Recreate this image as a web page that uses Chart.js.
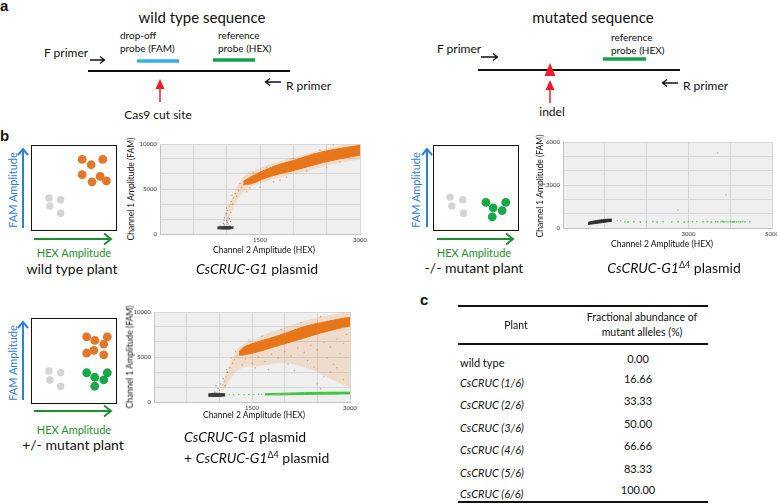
<!DOCTYPE html>
<html>
<head>
<meta charset="utf-8">
<script src="https://cdn.jsdelivr.net/npm/chart.js@4.4.1/dist/chart.umd.min.js"></script>
<style>
  body { margin: 0; background: #fff; }
  #fig { position: relative; width: 777px; height: 504px; overflow: hidden;
         font-family: Lato, 'Open Sans', sans-serif; color: #111; }
  .t { position: absolute; white-space: nowrap; line-height: 1; }
  .c { transform: translate(-50%, -50%); }
  .l { transform: translate(0, -50%); }
  .rot { transform: translate(-50%, -50%) rotate(-90deg); }
  .lbl { font-family: Arial, 'Liberation Sans', sans-serif; font-weight: bold; font-size: 15px; }
  canvas { position: absolute; }
  .box { position: absolute; width: 86px; height: 86px; border: 1.5px solid #111; box-sizing: border-box; }
  .box canvas { left: 0; top: 0; }
  i { font-style: italic; }
  sup { font-size: 9px; vertical-align: 5px; line-height: 0; }
  .rule { position: absolute; left: 458px; width: 250px; background: #111; }
</style>
</head>
<body>
<div id="fig">
  <!-- panel a -->
  <div class="t lbl" style="left:0;top:-2px">a</div>
  <div class="t c" style="left:202px;top:17px;font-size:15px">wild type sequence</div>
  <div class="t c" style="left:593px;top:17px;font-size:15px">mutated sequence</div>
  <div class="t" style="left:120px;top:29px;font-size:10px;line-height:13px">drop-off<br>probe (FAM)</div>
  <div class="t" style="left:218px;top:29px;font-size:10px;line-height:13px">reference<br>probe (HEX)</div>
  <div class="t" style="left:611px;top:31px;font-size:10px;line-height:13px">reference<br>probe (HEX)</div>
  <div class="t l" style="left:44px;top:53px;font-size:12px">F primer</div>
  <div class="t l" style="left:437px;top:49px;font-size:12px">F primer</div>
  <div class="t l" style="left:286px;top:86px;font-size:12px">R primer</div>
  <div class="t l" style="left:683px;top:86px;font-size:12px">R primer</div>
  <div class="t c" style="left:158px;top:115px;font-size:12px">Cas9 cut site</div>
  <div class="t c" style="left:552px;top:112px;font-size:12px">indel</div>

  <svg width="777" height="504" style="position:absolute;left:0;top:0" fill="none">
    <g stroke="#111">
      <line x1="88" y1="71" x2="290" y2="71" stroke-width="2"/>
      <line x1="478" y1="70" x2="680" y2="70" stroke-width="2"/>
      <path d="M90 60H104M100 56.5L104.5 60L100 63.5" stroke-width="1.3"/>
      <path d="M481 57H497M493 53.5L497.5 57L493 60.5" stroke-width="1.3"/>
      <path d="M281 82H266M270 78.5L265.5 82L270 85.5" stroke-width="1.3"/>
      <path d="M678 83H663M667 79.5L662.5 83L667 86.5" stroke-width="1.3"/>
    </g>
    <line x1="137" y1="61" x2="179" y2="61" stroke="#35aee6" stroke-width="3.5"/>
    <line x1="213" y1="60" x2="255" y2="60" stroke="#14a04b" stroke-width="3.5"/>
    <line x1="603" y1="59" x2="646" y2="59" stroke="#14a04b" stroke-width="3.5"/>
    <g stroke="#ee1c24" stroke-width="1.5">
      <line x1="160" y1="102" x2="160" y2="87"/>
      <line x1="550" y1="103" x2="550" y2="88"/>
    </g>
    <g fill="#ee1c24">
      <polygon points="155.5,89 160,79 164.5,89"/>
      <polygon points="545.5,90 550,80 554.5,90"/>
      <polygon points="544.5,76 550,63 555.5,76"/>
    </g>
    <!-- amplitude arrows -->
    <g stroke="#2f7fd8" stroke-width="2">
      <path d="M23 228V149M18 155L23 149L28 155"/>
      <path d="M427 227V149M422 155L427 149L432 155"/>
      <path d="M23 400V322M18 328L23 322L28 328"/>
    </g>
    <g stroke="#1e8f2e" stroke-width="2">
      <path d="M34 239H111M104 233.5L111 239L104 244.5"/>
      <path d="M437 239H513M506 233.5L513 239L506 244.5"/>
      <path d="M34 411H111M104 405.5L111 411L104 416.5"/>
    </g>
  </svg>

  <!-- panel b -->
  <div class="t lbl" style="left:0;top:128px">b</div>
  <div class="box" style="left:31px;top:145px"><canvas id="mini1" width="86" height="86"></canvas></div>
  <div class="box" style="left:433px;top:145px"><canvas id="mini2" width="86" height="86"></canvas></div>
  <div class="box" style="left:31px;top:318px"><canvas id="mini3" width="86" height="86"></canvas></div>

  <div class="t rot" style="left:12px;top:190px;font-size:11px;color:#2f7fd8">FAM Amplitude</div>
  <div class="t rot" style="left:415px;top:190px;font-size:11px;color:#2f7fd8">FAM Amplitude</div>
  <div class="t rot" style="left:12px;top:363px;font-size:11px;color:#2f7fd8">FAM Amplitude</div>
  <div class="t c" style="left:74px;top:252px;font-size:11px;color:#1e8f2e">HEX Amplitude</div>
  <div class="t c" style="left:474px;top:252px;font-size:11px;color:#1e8f2e">HEX Amplitude</div>
  <div class="t c" style="left:74px;top:429px;font-size:11px;color:#1e8f2e">HEX Amplitude</div>
  <div class="t c" style="left:72px;top:269px;font-size:14px">wild type plant</div>
  <div class="t c" style="left:474px;top:268px;font-size:14px">-/- mutant plant</div>
  <div class="t c" style="left:73px;top:445px;font-size:14px">+/- mutant plant</div>

  <canvas id="wt" width="232" height="107" style="left:136px;top:139px"></canvas>
  <canvas id="mut" width="238" height="103" style="left:539px;top:137px"></canvas>
  <canvas id="het" width="228" height="107" style="left:130px;top:307px"></canvas>

  <div class="t rot" style="left:131px;top:189px;font-size:8.5px">Channel 1 Amplitude (FAM)</div>
  <div class="t rot" style="left:540px;top:186px;font-size:8.5px">Channel 1 Amplitude (FAM)</div>
  <div class="t rot" style="left:130px;top:357px;font-size:8.5px">Channel 1 Amplitude (FAM)</div>
  <div class="t c" style="left:264px;top:250px;font-size:8.5px">Channel 2 Amplitude (HEX)</div>
  <div class="t c" style="left:662px;top:244px;font-size:8.5px">Channel 2 Amplitude (HEX)</div>
  <div class="t c" style="left:254px;top:415px;font-size:8.5px">Channel 2 Amplitude (HEX)</div>

  <div class="t c" style="left:257px;top:269px;font-size:14px"><i>CsCRUC-G1</i> plasmid</div>
  <div class="t c" style="left:674px;top:268px;font-size:14px"><i>CsCRUC-G1</i><sup>Δ4</sup> plasmid</div>
  <div class="t l" style="left:184px;top:437px;font-size:14px"><i>CsCRUC-G1</i> plasmid</div>
  <div class="t l" style="left:184px;top:458px;font-size:14px">+ <i>CsCRUC-G1</i><sup>Δ4</sup> plasmid</div>

  <!-- panel c -->
  <div class="t lbl" style="left:420px;top:292px">c</div>
  <div class="rule" style="top:305px;height:1.5px"></div>
  <div class="t c" style="left:516px;top:325px;font-size:10.5px">Plant</div>
  <div class="t c" style="left:642px;top:325px;font-size:10.5px;line-height:15px;text-align:center">Fractional abundance of<br>mutant alleles (%)</div>
  <div class="rule" style="top:343px;height:2px"></div>
  <div id="rows"></div>
  <div class="rule" style="top:501px;height:2px"></div>
</div>

<script>
// ---- droplet plot data (Channel 2 HEX amplitude = x, Channel 1 FAM amplitude = y) ----
// CsCRUC-G1 plasmid (wild type)
const wtBandX     = [1250, 1375, 1575, 1775, 1975, 2225, 2450, 2700, 3000];
const wtBandUpper = [5850, 6400, 7100, 7700, 8100, 8700, 9150, 9500, 9850];
const wtBandLower = [5500, 5600, 6200, 6650, 7000, 7500, 7950, 8350, 8750];
// thin haze of droplets around the dense band
const wtHazeX     = [1000, 1250, 1500, 1800, 2100, 2400, 2700, 3000];
const wtHazeUpper = [2600, 6300, 7300, 8100, 8700, 9300, 9800, 10000];
const wtHazeLower = [1400, 4700, 5600, 6300, 6800, 7400, 7900, 8300];
const wtGrayX     = [860, 950, 1050, 1100];
const wtGrayUpper = [780, 820, 820, 740];
const wtGrayLower = [580, 540, 560, 640];
const wtOrangeDots = [[960,1500],[990,2100],[1010,2600],[1040,3100],[1070,3600],[1000,2900],[1100,4000],
  [1130,4500],[1180,4800],[1220,5200],[1260,5500],[1020,1800],[1060,2400],[1090,3300],[1150,4200],
  [1200,5600],[1300,5900],[1080,4300],[1500,5200],[1700,5800],[1900,6300],[2200,7000],[2500,7400],
  [1600,7400],[1900,8000],[2300,8900],[2700,8000],[2600,9900],[2000,8400],[1400,6800],[2800,9200],
  [1800,6000],[1300,4700],[1450,6600],[1350,5100],[1550,6900],[2100,7300],[2400,9300]];
const wtGrayDots = [[900,900],[950,1200],[1000,1500],[970,1800],[1020,1100],[930,700],[1050,900],
  [990,2300],[1010,1300],[960,1000],[1040,1700],[1100,800],[880,600],[1060,1400]];

// CsCRUC-G1 delta4 plasmid (mutant)
const mutGrayX     = [600, 800, 1000, 1170];
const mutGrayUpper = [400, 520, 600, 620];
const mutGrayLower = [250, 320, 400, 470];
const mutGreenDots = [[1480,430],[1560,420],[1700,440],[1850,420],[1990,430],[2150,440],[2250,420],
  [2400,450],[2600,430],[2750,440],[2900,420],[3000,440],[3100,430],[3200,450],[3350,430],[3450,440],
  [3550,420],[3650,450],[3700,430],[3780,440],[3850,420],[3900,450],[3950,430],[4000,440],[4050,420],
  [4100,450],[4150,430],[4200,440],[4250,420],[4300,450],[4350,430],[4470,440],[3820,460],[4080,410]];
const mutStrayDots = [[2750,1250],[3900,2300],[3700,5230],[1300,520],[1380,500]];

// CsCRUC-G1 + CsCRUC-G1 delta4 plasmids (heterozygous mix)
const hetBandX     = [1300, 1390, 1600, 1850, 2110, 2360, 2620, 2900, 3000];
const hetBandUpper = [5600, 6150, 6700, 7250, 7900, 8500, 8900, 9300, 9400];
const hetBandLower = [5200, 5250, 5600, 6150, 6700, 7250, 7800, 8300, 8450];
const hetHazeX     = [1050, 1300, 1600, 2000, 2400, 2800, 3000];
const hetHazeUpper = [2200, 6000, 7200, 8300, 9200, 9800, 10000];
const hetHazeLower = [1200, 3600, 4000, 4300, 3600, 2200, 1600];
const hetGrayX     = [830, 900, 1000, 1090];
const hetGrayUpper = [900, 960, 960, 900];
const hetGrayLower = [650, 600, 620, 680];
const hetGreenX     = [1700, 2000, 2300, 2600, 3000];
const hetGreenUpper = [920, 980, 1040, 1080, 1100];
const hetGreenLower = [780, 800, 840, 870, 900];
const hetGreenDots = [[1150,820],[1220,800],[1300,830],[1380,810],[1450,840],[1530,830],[1600,850],[1650,860]];
const hetOrangeDots = [[1050,1900],[1080,2300],[1100,2800],[1130,3300],[1160,3800],[1200,4300],[1230,4700],
  [1270,5100],[1110,3600],[1180,4900],[1250,5600],[1400,4800],[1500,4300],[1600,5000],[1700,4500],
  [1800,5300],[1900,4900],[2000,5600],[2100,5100],[2200,6000],[2300,5500],[2400,6300],[2500,5800],
  [2600,6600],[2700,6100],[2800,7000],[2900,6500],[1550,3800],[1750,3600],[2050,4200],[2350,4600],
  [2650,4900],[2850,5400],[1650,7300],[1950,8000],[2250,8800],[2550,9500],[1450,6900],[2150,3500],
  [2450,3900],[2750,4200],[1350,4100],[2950,7500],[2500,2000],[2600,2800],[2700,3300],[2800,3800],
  [2550,1500],[2900,2500]];
const hetGrayDots = [[930,1100],[980,1500],[1020,2000],[1060,2600],[1000,1300],[1090,1800],[1120,3300],[950,1800]];

// ---- schematic boxes (positions inside the 86 px box, y from top) ----
const mini1Orange = [[51,10],[74,10],[61,16],[51,27],[71,29],[62,35],[78,34]];
const mini1Gray   = [[14,53],[27,55],[15,62],[27,70]];
const mini2Gray   = [[13,52],[27,55],[15,62],[28,70]];
const mini2Green  = [[53,58],[61,64],[75,58],[71,67],[60,74]];
const mini3Orange = [[56,15],[65,19],[79,15],[56,33],[64,30],[75,23],[75,35]];
const mini3Gray   = [[14,53],[27,55],[15,63],[27,70]];
const mini3Green  = [[56,55],[65,60],[79,55],[75,63],[65,70]];

// ---- table ----
const plants = ['wild type', 'CsCRUC (1/6)', 'CsCRUC (2/6)', 'CsCRUC (3/6)', 'CsCRUC (4/6)', 'CsCRUC (5/6)', 'CsCRUC (6/6)'];
const mutantPct = [0.00, 16.66, 33.33, 50.00, 66.66, 83.33, 100.00];

const ORANGE = 'rgb(231,118,24)';
const HAZE = 'rgba(231,118,24,0.16)';
const GREEN = 'rgb(60,200,60)';

function xy(xs, ys) { return xs.map((x, i) => ({ x: x, y: ys[i] })); }
function pts(arr) { return arr.map(p => ({ x: p[0], y: p[1] })); }

function bandSets(xs, lower, upper, color, edge) {
    const line = edge === undefined ? color : edge;
    return [
        { type: 'line', data: xy(xs, lower), borderColor: line, borderWidth: 1, pointRadius: 0, fill: false, tension: 0.4 },
        { type: 'line', data: xy(xs, upper), borderColor: line, borderWidth: 1, pointRadius: 0, fill: '-1', backgroundColor: color, tension: 0.4 }
    ];
}
function dotSet(arr, color, r) {
    return { data: pts(arr), backgroundColor: color, borderWidth: 0, pointRadius: r, pointHoverRadius: r };
}

const plotBg = {
    id: 'plotBg',
    beforeDraw(chart) {
        const { ctx, chartArea: a } = chart;
        ctx.save();
        ctx.fillStyle = '#efefef';
        ctx.fillRect(a.left, a.top, a.right - a.left, a.bottom - a.top);
        ctx.restore();
    }
};

function near(v, list) { return list.some(t => Math.abs(t - v) < 1); }

function dropletChart(id, datasets, xMax, xStep, xShow, yMax, yStep, yShow) {
    return new Chart(document.getElementById(id), {
        type: 'scatter',
        data: { datasets: datasets },
        options: {
            responsive: false,
            animation: false,
            layout: { padding: { top: 5, right: id === 'mut' ? 5 : 8, left: 0, bottom: 0 } },
            plugins: { legend: { display: false }, tooltip: { enabled: false } },
            scales: {
                x: {
                    type: 'linear', min: 0, max: xMax,
                    afterFit: s => { s.height = 12; s.paddingLeft = 0; s.paddingRight = 0; },
                    ticks: { stepSize: xStep, autoSkip: false, maxRotation: 0, padding: 2, color: '#333',
                             font: { size: 6, family: 'Lato' },
                             callback: v => near(v, xShow) ? Math.round(v) : '' },
                    grid: { color: '#d6d6d6', drawTicks: false },
                    border: { color: '#c4c4c4' }
                },
                y: {
                    type: 'linear', min: 0, max: yMax,
                    afterFit: s => { s.width = 24; s.paddingTop = 0; s.paddingBottom = 0; },
                    ticks: { stepSize: yStep, autoSkip: false, padding: 3, color: '#333',
                             font: { size: 6, family: 'Lato' },
                             callback: v => near(v, yShow) ? Math.round(v) : '' },
                    grid: { color: '#d6d6d6', drawTicks: false },
                    border: { color: '#c4c4c4' }
                }
            }
        },
        plugins: [plotBg]
    });
}

dropletChart('wt', [
    ...bandSets(wtHazeX, wtHazeLower, wtHazeUpper, HAZE, 'transparent'),
    ...bandSets(wtGrayX, wtGrayLower, wtGrayUpper, '#3a3a3a'),
    ...bandSets(wtBandX, wtBandLower, wtBandUpper, ORANGE),
    dotSet(wtOrangeDots, 'rgba(231,118,24,0.7)', 0.75),
    dotSet(wtGrayDots, 'rgba(80,80,80,0.6)', 0.75)
], 3000, 500, [1500, 3000], 10000, 10000 / 6, [0, 5000, 10000]);

dropletChart('mut', [
    ...bandSets(mutGrayX, mutGrayLower, mutGrayUpper, '#2e2e2e'),
    dotSet(mutGreenDots, 'rgba(60,200,60,0.8)', 0.9),
    dotSet(mutStrayDots, 'rgba(150,150,150,0.7)', 0.75)
], 5000, 1000, [3000, 5000], 6000, 1000, [0, 3000, 6000]);

dropletChart('het', [
    ...bandSets(hetHazeX, hetHazeLower, hetHazeUpper, HAZE, 'transparent'),
    ...bandSets(hetGrayX, hetGrayLower, hetGrayUpper, '#3a3a3a'),
    ...bandSets(hetGreenX, hetGreenLower, hetGreenUpper, GREEN),
    ...bandSets(hetBandX, hetBandLower, hetBandUpper, ORANGE),
    dotSet(hetGreenDots, 'rgba(60,200,60,0.8)', 0.8),
    dotSet(hetOrangeDots, 'rgba(231,118,24,0.65)', 0.75),
    dotSet(hetGrayDots, 'rgba(80,80,80,0.55)', 0.75)
], 3000, 500, [1500, 3000], 10000, 10000 / 6, [0, 5000, 10000]);

// schematic droplet boxes
function miniChart(id, sets) {
    return new Chart(document.getElementById(id), {
        type: 'scatter',
        data: { datasets: sets.map(s => ({ data: pts(s[0]), backgroundColor: s[1], borderWidth: 0, pointRadius: s[2], pointHoverRadius: s[2] })) },
        options: {
            responsive: false,
            animation: false,
            layout: { padding: 0 },
            plugins: { legend: { display: false }, tooltip: { enabled: false } },
            scales: {
                x: { display: false, min: 0, max: 86 },
                y: { display: false, min: 0, max: 86, reverse: true }
            }
        }
    });
}
const DOT_ORANGE = '#e2762a', DOT_GREEN = '#17a84b', DOT_GRAY = '#d4d4d4';
miniChart('mini1', [[mini1Orange, DOT_ORANGE, 4.4], [mini1Gray, DOT_GRAY, 3.7]]);
miniChart('mini2', [[mini2Gray, DOT_GRAY, 3.7], [mini2Green, DOT_GREEN, 4.4]]);
miniChart('mini3', [[mini3Orange, DOT_ORANGE, 4.4], [mini3Gray, DOT_GRAY, 3.7], [mini3Green, DOT_GREEN, 4.4]]);

// table rows
const rowNameY = [362, 382, 404, 427, 449, 472, 493];
const rows = document.getElementById('rows');
plants.forEach((p, i) => {
    const name = document.createElement('div');
    name.className = 't l';
    name.style.cssText = `left:460px;top:${rowNameY[i]}px;font-size:11px`;
    name.innerHTML = i === 0 ? p : '<i>' + p + '</i>';
    rows.appendChild(name);
    const val = document.createElement('div');
    val.className = 't c';
    val.style.cssText = `left:638px;top:${rowNameY[i] - 4}px;font-size:11px`;
    val.textContent = mutantPct[i].toFixed(2);
    rows.appendChild(val);
});
</script>
</body>
</html>
